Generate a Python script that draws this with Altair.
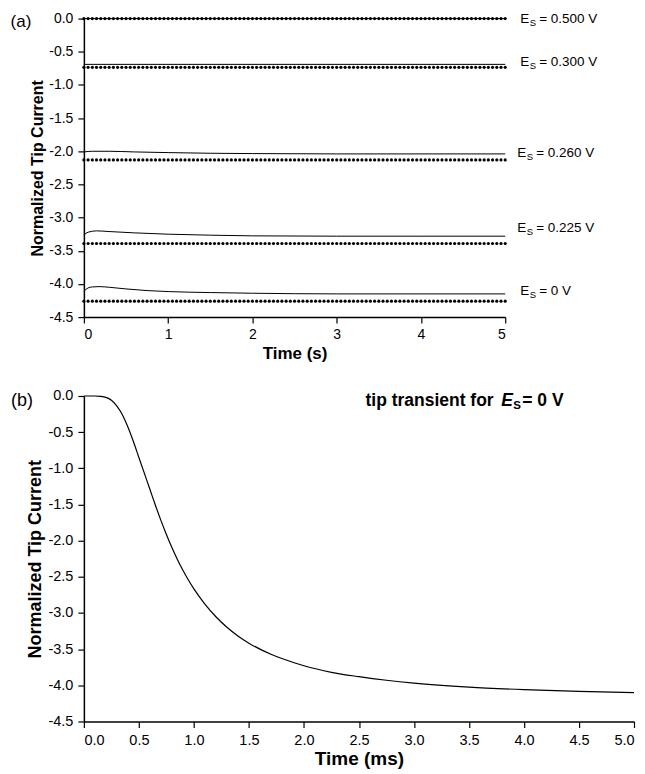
import altair as alt
import pandas as pd

# ---------------- Panel (a) data ----------------
series_names = ["0.500 V", "0.300 V", "0.260 V", "0.225 V", "0 V"]
dot_levels = [0.0, -0.735, -2.13, -3.39, -4.26]
dot_times = [round(i * 0.05, 2) for i in range(101)]

t_500 = [0.0, 5.0]
i_500 = [0.0, 0.0]
t_300 = [0.0, 5.0]
i_300 = [-0.69, -0.69]
t_260 = [0.0, 0.1, 0.3, 0.6, 1.0, 1.5, 2.0, 3.0, 4.0, 5.0]
i_260 = [-2.01, -2.0, -2.0, -2.01, -2.02, -2.03, -2.035, -2.04, -2.04, -2.04]
t_225 = [0.0, 0.05, 0.15, 0.3, 0.6, 1.0, 1.5, 2.0, 3.0, 4.0, 5.0]
i_225 = [-3.26, -3.22, -3.20, -3.21, -3.23, -3.25, -3.265, -3.275, -3.28, -3.28, -3.28]
t_0 = [0.0, 0.05, 0.1, 0.18, 0.3, 0.5, 0.75, 1.0, 1.5, 2.0, 3.0, 4.0, 5.0]
i_0 = [-4.11, -4.06, -4.045, -4.04, -4.05, -4.075, -4.10, -4.115, -4.13, -4.14, -4.15, -4.15, -4.15]

label_values = ["= 0.500 V", "= 0.300 V", "= 0.260 V", "= 0.225 V", "= 0 V"]
label_levels = [0.0, -0.66, -2.03, -3.16, -4.10]
label_shift = [15, 15, 12, 12, 15]

# ---------------- Panel (b) data ----------------
tb = [0, 0.1, 0.15, 0.2, 0.25, 0.3, 0.35, 0.4, 0.45, 0.5, 0.55, 0.6, 0.65, 0.7, 0.75,
      0.8, 0.85, 0.9, 0.95, 1.0, 1.1, 1.2, 1.3, 1.4, 1.5, 1.6, 1.7, 1.8, 2.0, 2.25, 2.5,
      2.75, 3.0, 3.5, 4.0, 4.5, 5.0]
ib = [0, 0, -0.005, -0.02, -0.06, -0.14, -0.26, -0.43, -0.63, -0.85, -1.07, -1.29,
      -1.51, -1.72, -1.915, -2.095, -2.26, -2.41, -2.545, -2.667, -2.877, -3.052,
      -3.197, -3.317, -3.417, -3.50, -3.57, -3.63, -3.73, -3.82, -3.88, -3.93, -3.97,
      -4.025, -4.06, -4.085, -4.10]

# ---------------- tables ----------------
dots = pd.DataFrame([
    {"t": t, "I": lvl, "series": s}
    for s, lvl in zip(series_names, dot_levels) for t in dot_times
])
curve_rows = []
for s, ts, vs in zip(series_names, [t_500, t_300, t_260, t_225, t_0],
                     [i_500, i_300, i_260, i_225, i_0]):
    for t, v in zip(ts, vs):
        curve_rows.append({"t": t, "I": v, "series": s})
curves = pd.DataFrame(curve_rows)
labels = pd.DataFrame({"t": [5.0] * 5, "I": label_levels, "txt": label_values,
                       "shift": label_shift})
trans = pd.DataFrame({"t": tb, "I": ib})

FONT = "Liberation Sans"
yvals = [round(-0.5 * k, 1) for k in range(10)]
ylab = "(datum.value < 0 ? '-' : '') + format(abs(datum.value), '.1f')"


def axis(title, values, fmt=None, label_expr=None, lsize=13, tsize=16, tpad=4, lpad=5):
    kw = dict(title=title, values=values, grid=False, domainColor="black",
              domainWidth=1.5, tickColor="black", tickSize=6, tickWidth=1.2,
              labelColor="black", labelFontSize=lsize, labelFont=FONT,
              titleFont=FONT, titleFontSize=tsize, titleFontWeight="bold",
              titleColor="black", labelPadding=lpad, titlePadding=tpad,
              labelOverlap=False)
    if fmt:
        kw["format"] = fmt
    if label_expr:
        kw["labelExpr"] = label_expr
    return alt.Axis(**kw)


xa = alt.X("t:Q", scale=alt.Scale(domain=[0, 5], nice=False),
           axis=axis("Time (s)", [0, 1, 2, 3, 4, 5], fmt="d", lsize=14, tsize=17,
                     lpad=4, tpad=4))
ya = alt.Y("I:Q", scale=alt.Scale(domain=[-4.5, 0], nice=False),
           axis=axis("Normalized Tip Current", yvals, label_expr=ylab, lsize=14,
                     tsize=16, tpad=3))

pts = alt.Chart(dots).mark_circle(size=10, color="black", opacity=1).encode(
    x=xa, y=ya, detail="series:N")
lines = alt.Chart(curves).mark_line(color="black", strokeWidth=1,
                                    interpolate="monotone").encode(
    x=xa, y=ya, detail="series:N")

label_layers = []
for sh in sorted(set(label_shift)):
    base = alt.Chart(labels).transform_filter(alt.datum.shift == sh).encode(x=xa, y=ya)
    label_layers.append(base.mark_text(text="E", align="left", baseline="middle",
                                       fontSize=13.5, font=FONT, color="black", dx=sh))
    label_layers.append(base.mark_text(text="S", align="left", baseline="middle",
                                       fontSize=9.5, font=FONT, color="black",
                                       dx=sh + 9.5, dy=4))
    label_layers.append(base.mark_text(align="left", baseline="middle", fontSize=13.5,
                                       font=FONT, color="black", dx=sh + 19).encode(
        text="txt:N"))

tag_a = alt.Chart(pd.DataFrame({"t": [0.0], "I": [0.0]})).mark_text(
    text="(a)", fontSize=17, font=FONT, color="black", align="center",
    baseline="middle", dx=-63, dy=3).encode(x=xa, y=ya)

panel_a = alt.layer(pts, lines, *label_layers, tag_a).properties(width=422, height=299)

# panel (b)
xb = alt.X("t:Q", scale=alt.Scale(domain=[0, 5], nice=False),
           axis=axis("Time (ms)", [round(0.5 * k, 1) for k in range(11)], fmt=".1f",
                     lsize=14.5, tsize=19, lpad=6, tpad=3))
yb = alt.Y("I:Q", scale=alt.Scale(domain=[-4.5, 0], nice=False),
           axis=axis("Normalized Tip Current", yvals, label_expr=ylab, lsize=14.5,
                     tsize=18, tpad=3))

tline = alt.Chart(trans).mark_line(color="black", strokeWidth=1.2,
                                   interpolate="monotone").encode(x=xb, y=yb)

ann_t = [2.56]
ann_i = [-0.07]
ann = pd.DataFrame({"t": ann_t, "I": ann_i})
abase = alt.Chart(ann).encode(x=xb, y=yb)
ann1 = abase.mark_text(text="tip transient for", align="left", baseline="middle",
                       fontSize=17.5, fontWeight="bold", font=FONT, color="black")
ann2 = abase.mark_text(text="E", align="left", baseline="middle", fontSize=17.5,
                       fontWeight="bold", fontStyle="italic", font=FONT,
                       color="black", dx=136)
ann3 = abase.mark_text(text="S", align="left", baseline="middle", fontSize=11.5,
                       fontWeight="bold", font=FONT, color="black", dx=148, dy=5)
ann4 = abase.mark_text(text="= 0 V", align="left", baseline="middle", fontSize=17.5,
                       fontWeight="bold", font=FONT, color="black", dx=157)

tag_b = alt.Chart(pd.DataFrame({"t": [0.0], "I": [0.0]})).mark_text(
    text="(b)", fontSize=18, font=FONT, color="black", align="center",
    baseline="middle", dx=-62, dy=5).encode(x=xb, y=yb)

panel_b = alt.layer(tline, ann1, ann2, ann3, ann4, tag_b).properties(width=551, height=326)

chart = alt.vconcat(panel_a, panel_b, spacing=27).configure(
    padding={"left": 2, "top": 3, "right": 0, "bottom": 0}, font=FONT
).configure_view(stroke=None)

chart.save("out.html", embed_options={"renderer": "svg", "actions": False})
